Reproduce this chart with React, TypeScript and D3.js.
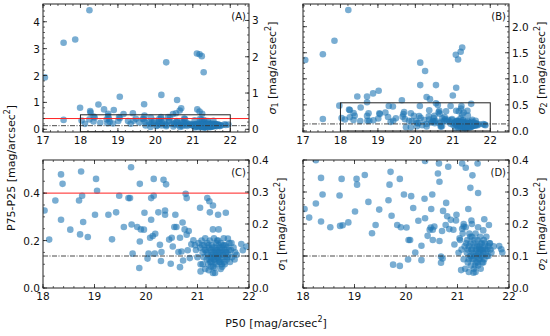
import React from "react";
import * as d3 from "d3";

const W = 550;
const H = 336;
const FONT = "DejaVu Sans, sans-serif";

// sigma = IQR / 1.349 for a gaussian
const GAUSS = 1.349;
const IQR_CUT = 0.4; // red line
const SIGMA_CUT = 0.1; // dash-dot line
const BOX_X: [number, number] = [18, 22];
const BOX_TOP = 0.54;

// P50 vs P75-P25, points inside the zoom box (panel C)
const iqrCore: [number, number][] = [
  [18.03, 0.327], [18.12, 0.204], [18.35, 0.479], [18.38, 0.439], [18.24, 0.369],
  [18.35, 0.288], [18.53, 0.246], [18.74, 0.491], [18.76, 0.389], [18.7, 0.369],
  [18.78, 0.278], [18.72, 0.226], [18.87, 0.215], [19.03, 0.46], [19.05, 0.41],
  [19.01, 0.309], [19.27, 0.309], [19.42, 0.319], [19.34, 0.205], [19.48, 0.389],
  [19.57, 0.257], [19.71, 0.509], [19.66, 0.379], [19.69, 0.379], [19.72, 0.268],
  [19.74, 0.145], [19.88, 0.439], [19.83, 0.257], [19.9, 0.247], [19.88, 0.196],
  [19.96, 0.246], [19.97, 0.317], [19.87, 0.084], [20.05, 0.145], [20.03, 0.124],
  [20.08, 0.212], [20.1, 0.288], [20.1, 0.379], [20.15, 0.46], [20.17, 0.145],
  [20.18, 0.229], [20.13, 0.219], [20.15, 0.389], [20.24, 0.319], [20.27, 0.182],
  [20.3, 0.152], [20.29, 0.114], [20.34, 0.456], [20.39, 0.437], [20.37, 0.309],
  [20.37, 0.327], [20.45, 0.204], [20.48, 0.102], [20.5, 0.212], [20.55, 0.257],
  [20.57, 0.309], [20.52, 0.175], [20.59, 0.257], [20.63, 0.152], [20.66, 0.212],
  [20.66, 0.088], [20.71, 0.276], [20.69, 0.154], [20.72, 0.116], [20.75, 0.247],
  [20.77, 0.397], [20.79, 0.379], [20.79, 0.225], [20.81, 0.159], [20.83, 0.24],
  [20.85, 0.126], [20.88, 0.184], [20.92, 0.201], [20.95, 0.18], [21.05, 0.338],
  [21.06, 0.07], [21.19, 0.379], [21.23, 0.366], [21.24, 0.319], [21.3, 0.348],
  [21.4, 0.309], [21.41, 0.247], [21.3, 0.247], [21.34, 0.063], [21.3, 0.063],
  [21.55, 0.317], [21.59, 0.208], [21.88, 0.159], [21.85, 0.185], [21.95, 0.175],
];

// the crowded clump near P50 ~ 21.3 (panel C)
const iqrClump: [number, number][] = [
  [21.02, 0.19], [21.05, 0.17], [21.08, 0.2], [21.1, 0.15], [21.12, 0.13],
  [21.13, 0.18], [21.15, 0.21], [21.16, 0.16], [21.18, 0.12], [21.19, 0.19],
  [21.2, 0.14], [21.21, 0.1], [21.22, 0.17], [21.24, 0.2], [21.25, 0.13],
  [21.26, 0.16], [21.27, 0.11], [21.28, 0.18], [21.29, 0.14], [21.3, 0.09],
  [21.31, 0.15], [21.32, 0.21], [21.33, 0.12], [21.34, 0.17], [21.35, 0.14],
  [21.36, 0.19], [21.37, 0.1], [21.38, 0.16], [21.39, 0.13], [21.4, 0.2],
  [21.41, 0.15], [21.42, 0.11], [21.43, 0.17], [21.44, 0.14], [21.45, 0.19],
  [21.46, 0.12], [21.47, 0.16], [21.48, 0.09], [21.49, 0.18], [21.5, 0.14],
  [21.51, 0.21], [21.52, 0.11], [21.53, 0.16], [21.54, 0.13], [21.55, 0.18],
  [21.56, 0.15], [21.57, 0.12], [21.58, 0.17], [21.6, 0.14], [21.62, 0.19],
  [21.63, 0.11], [21.65, 0.16], [21.67, 0.13], [21.7, 0.17], [21.73, 0.15],
  [21.76, 0.14], [21.1, 0.1], [21.15, 0.08], [21.22, 0.075], [21.28, 0.13],
  [21.33, 0.085], [21.36, 0.13], [21.42, 0.12], [21.47, 0.1], [21.38, 0.2],
  [21.26, 0.09], [21.0, 0.13], [20.97, 0.16], [21.06, 0.1], [21.45, 0.08],
  [21.53, 0.1], [21.18, 0.15], [21.23, 0.12], [21.29, 0.17], [21.34, 0.11],
  [21.37, 0.15], [21.41, 0.18], [21.44, 0.11], [21.49, 0.15], [21.52, 0.18],
  [21.58, 0.13], [21.61, 0.16], [21.31, 0.12], [21.27, 0.15], [21.21, 0.18],
  [21.14, 0.16], [21.4, 0.13], [21.46, 0.17], [21.55, 0.15], [21.35, 0.16],
  [21.09, 0.18], [21.66, 0.19], [21.72, 0.12], [21.25, 0.11], [21.43, 0.15],
];

// points only visible in panel A (outside the box)
const iqrOuter: [number, number][] = [
  [17.05, 1.93], [17.55, 3.22], [17.86, 3.34], [18.24, 4.43], [20.29, 2.49],
  [21.11, 2.82], [21.18, 2.79], [21.24, 2.72], [21.29, 2.12], [19.05, 1.21],
  [20.16, 1.28], [20.58, 1.09], [17.99, 0.8], [18.48, 0.92], [18.26, 0.68],
  [18.27, 0.62], [18.63, 0.74], [18.89, 0.72], [18.74, 0.58], [19.7, 0.93],
  [20.69, 0.78], [20.65, 0.7], [20.47, 0.57], [21.12, 0.74], [21.18, 0.66],
  [17.55, 0.35], [19.4, 0.6], [19.15, 0.57], [20.55, 0.6], [21.25, 0.58],
];

// P50 vs sigma_2, points inside panel D
const sig2Core: [number, number][] = [
  [18.25, 0.399], [18.03, 0.247], [18.12, 0.22], [18.25, 0.264], [18.35, 0.344],
  [18.38, 0.292], [18.35, 0.208], [18.53, 0.19], [18.71, 0.289], [18.75, 0.341],
  [18.72, 0.194], [18.77, 0.196], [18.88, 0.205], [19.01, 0.239], [19.04, 0.341],
  [19.05, 0.323], [19.2, 0.353], [19.27, 0.269], [19.34, 0.171], [19.41, 0.197],
  [19.48, 0.245], [19.66, 0.274], [19.68, 0.323], [19.7, 0.363], [19.72, 0.226],
  [19.75, 0.073], [19.83, 0.197], [19.88, 0.341], [19.88, 0.069], [19.9, 0.19],
  [19.96, 0.292], [20.01, 0.189], [20.05, 0.15], [20.08, 0.15], [20.04, 0.089],
  [20.1, 0.287], [20.14, 0.25], [20.18, 0.111], [20.24, 0.21], [20.3, 0.132],
  [20.3, 0.087], [20.36, 0.279], [20.37, 0.218], [20.37, 0.397], [20.42, 0.163],
  [20.49, 0.247], [20.51, 0.292], [20.46, 0.182], [20.48, 0.189], [20.52, 0.182],
  [20.52, 0.15], [20.55, 0.192], [20.62, 0.358], [20.64, 0.389], [20.65, 0.332],
  [20.68, 0.098], [20.68, 0.079], [20.7, 0.178], [20.71, 0.092], [20.65, 0.147],
  [20.72, 0.241], [20.77, 0.197], [20.78, 0.266], [20.8, 0.224], [20.82, 0.379],
  [20.84, 0.184], [20.87, 0.213], [20.92, 0.182], [20.97, 0.211], [20.94, 0.136],
  [20.98, 0.229], [21.04, 0.155], [21.07, 0.056], [21.09, 0.389], [21.09, 0.185],
  [21.12, 0.192], [21.16, 0.376], [21.21, 0.247], [21.25, 0.313], [21.27, 0.211],
  [21.29, 0.352], [21.31, 0.048], [21.39, 0.389], [21.4, 0.297], [21.42, 0.121],
  [21.52, 0.215], [21.61, 0.197], [21.63, 0.14], [21.81, 0.131], [21.85, 0.121],
  [21.87, 0.111],
];

// the crowded clump near P50 ~ 21.35 (panel D)
const sig2Clump: [number, number][] = [
  [21.05, 0.15], [21.08, 0.12], [21.1, 0.17], [21.12, 0.09], [21.14, 0.13],
  [21.16, 0.19], [21.18, 0.11], [21.19, 0.15], [21.2, 0.08], [21.22, 0.13],
  [21.23, 0.17], [21.24, 0.1], [21.25, 0.14], [21.26, 0.07], [21.27, 0.12],
  [21.28, 0.16], [21.29, 0.09], [21.3, 0.11], [21.31, 0.14], [21.32, 0.06],
  [21.33, 0.1], [21.34, 0.13], [21.35, 0.17], [21.36, 0.08], [21.37, 0.12],
  [21.38, 0.1], [21.39, 0.15], [21.4, 0.07], [21.41, 0.11], [21.42, 0.13],
  [21.43, 0.09], [21.44, 0.16], [21.45, 0.12], [21.46, 0.1], [21.47, 0.14],
  [21.48, 0.08], [21.49, 0.12], [21.5, 0.11], [21.51, 0.15], [21.52, 0.09],
  [21.53, 0.13], [21.55, 0.11], [21.56, 0.16], [21.58, 0.12], [21.6, 0.1],
  [21.62, 0.14], [21.64, 0.12], [21.66, 0.11], [21.7, 0.13], [21.28, 0.2],
  [21.22, 0.05], [21.35, 0.05], [21.15, 0.06], [21.45, 0.06], [21.4, 0.19],
  [21.12, 0.2], [21.5, 0.18], [21.02, 0.11], [21.2, 0.12], [21.26, 0.1],
  [21.31, 0.09], [21.36, 0.11], [21.41, 0.09], [21.46, 0.12], [21.5, 0.08],
  [21.54, 0.12], [21.57, 0.1], [21.33, 0.15], [21.38, 0.13], [21.43, 0.11],
  [21.48, 0.1], [21.28, 0.12], [21.22, 0.09], [21.17, 0.14], [21.6, 0.13],
  [21.44, 0.14], [21.34, 0.07], [21.39, 0.08], [21.53, 0.14], [21.25, 0.16],
];

// points only visible in panel B
const sig2Outer: [number, number][] = [
  [17.06, 1.36], [17.53, 1.47], [17.84, 1.73], [18.21, 2.32], [20.13, 1.31],
  [20.26, 1.15], [20.13, 0.88], [20.55, 0.88], [20.3, 0.65], [20.39, 0.61],
  [21.08, 1.46], [21.14, 1.37], [21.21, 1.52], [21.25, 1.6], [21.09, 0.83],
  [21.0, 0.68], [18.45, 0.66], [18.71, 0.66], [18.71, 0.55], [18.87, 0.72],
  [19.02, 0.77], [19.64, 0.59], [17.53, 0.23], [17.97, 0.485], [18.23, 0.41],
  [18.54, 0.45], [19.29, 0.48], [19.4, 0.47], [20.12, 0.48], [20.6, 0.5],
  [20.55, 0.53], [20.94, 0.48], [21.22, 0.43], [21.23, 0.48], [21.49, 0.52],
];

type Pt = [number, number];
type Side = {
  scale: d3.ScaleLinear<number, number>;
  major: number[];
  minor: number[];
  labels: boolean;
  fmt: (v: number) => string;
};

function steps(a: number, b: number, s: number): number[] {
  const lo = Math.ceil(a / s - 1e-6);
  const hi = Math.floor(b / s + 1e-6);
  return d3.range(lo, hi + 1).map((i) => +(i * s).toFixed(6));
}

function side(domain: [number, number], range: [number, number], major: number, minor: number, labels: boolean, digits: number): Side {
  const scale = d3.scaleLinear().domain(domain).range(range);
  return {
    scale,
    major: steps(domain[0], domain[1], major),
    minor: steps(domain[0], domain[1], minor),
    labels,
    fmt: (v) => v.toFixed(digits),
  };
}

function AxisLabel({ x, y, sub, rotate }: { x: number; y: number; sub?: string; rotate?: boolean }) {
  return (
    <text
      transform={`translate(${x},${y})${rotate ? " rotate(-90)" : ""}`}
      textAnchor="middle"
      dominantBaseline="central"
      fontFamily={FONT}
      fontSize={11}
      fill="#111"
    >
      {sub ? (
        <>
          <tspan fontStyle="italic">σ</tspan>
          <tspan fontSize={8} dy={3}>{sub}</tspan>
          <tspan dy={-3}> [mag/arcsec</tspan>
        </>
      ) : null}
      {!sub ? <tspan>{rotate ? "P75-P25 [mag/arcsec" : "P50 [mag/arcsec"}</tspan> : null}
      <tspan fontSize={8} dy={-4}>2</tspan>
      <tspan dy={4}>]</tspan>
    </text>
  );
}

function Panel(props: {
  id: string;
  x0: number;
  x1: number;
  y0: number;
  y1: number;
  xDomain: [number, number];
  left: Side;
  right: Side;
  points: Pt[];
  red?: number;
  dash: number;
  box?: [number, number];
  tag: string;
}) {
  const { id, x0, x1, y0, y1, xDomain, left, right, points, red, dash, box, tag } = props;
  const x = d3.scaleLinear().domain(xDomain).range([x0, x1]);
  const y = left.scale;
  const xMajor = steps(xDomain[0], xDomain[1], 1);
  const xMinor = steps(xDomain[0], xDomain[1], 0.2);
  const tc = "#222";
  const maj = 4;
  const mnr = 2;

  return (
    <g>
      <clipPath id={id}>
        <rect x={x0} y={y0} width={x1 - x0} height={y1 - y0} />
      </clipPath>
      <g clipPath={`url(#${id})`}>
        {points.map((d, i) => (
          <circle key={i} cx={x(d[0])} cy={y(d[1])} r={3.3} fill="#1f77b4" fillOpacity={0.6} />
        ))}
        {red !== undefined ? (
          <line x1={x0} x2={x1} y1={y(red)} y2={y(red)} stroke="#ff2020" strokeWidth={1} />
        ) : null}
        <line
          x1={x0}
          x2={x1}
          y1={y(dash)}
          y2={y(dash)}
          stroke="#333"
          strokeWidth={0.9}
          strokeDasharray="5,1.5,1,1.5"
        />
        {box ? (
          <rect
            x={x(BOX_X[0])}
            y={y(BOX_TOP)}
            width={x(BOX_X[1]) - x(BOX_X[0])}
            height={y(box[0]) - y(BOX_TOP)}
            fill="none"
            stroke="#222"
            strokeWidth={1}
          />
        ) : null}
      </g>

      {/* x ticks, bottom and top */}
      {xMinor.map((v) => (
        <g key={"xm" + v} stroke={tc} strokeWidth={0.7}>
          <line x1={x(v)} x2={x(v)} y1={y1} y2={y1 - mnr} />
          <line x1={x(v)} x2={x(v)} y1={y0} y2={y0 + mnr} />
        </g>
      ))}
      {xMajor.map((v) => (
        <g key={"xM" + v}>
          <line x1={x(v)} x2={x(v)} y1={y1} y2={y1 - maj} stroke={tc} strokeWidth={0.8} />
          <line x1={x(v)} x2={x(v)} y1={y0} y2={y0 + maj} stroke={tc} strokeWidth={0.8} />
          <text x={x(v)} y={y1 + 12} textAnchor="middle" fontFamily={FONT} fontSize={10.5} fill="#111">
            {v}
          </text>
        </g>
      ))}

      {/* left ticks */}
      {left.minor.map((v) => (
        <line key={"lm" + v} x1={x0} x2={x0 + mnr} y1={left.scale(v)} y2={left.scale(v)} stroke={tc} strokeWidth={0.7} />
      ))}
      {left.major.map((v) => (
        <g key={"lM" + v}>
          <line x1={x0} x2={x0 + maj} y1={left.scale(v)} y2={left.scale(v)} stroke={tc} strokeWidth={0.8} />
          {left.labels ? (
            <text
              x={x0 - 3}
              y={left.scale(v)}
              textAnchor="end"
              dominantBaseline="central"
              fontFamily={FONT}
              fontSize={10.5}
              fill="#111"
            >
              {left.fmt(v)}
            </text>
          ) : null}
        </g>
      ))}

      {/* right ticks */}
      {right.minor.map((v) => (
        <line key={"rm" + v} x1={x1} x2={x1 - mnr} y1={right.scale(v)} y2={right.scale(v)} stroke={tc} strokeWidth={0.7} />
      ))}
      {right.major.map((v) => (
        <g key={"rM" + v}>
          <line x1={x1} x2={x1 - maj} y1={right.scale(v)} y2={right.scale(v)} stroke={tc} strokeWidth={0.8} />
          <text
            x={x1 + 3}
            y={right.scale(v)}
            textAnchor="start"
            dominantBaseline="central"
            fontFamily={FONT}
            fontSize={10.5}
            fill="#111"
          >
            {right.fmt(v)}
          </text>
        </g>
      ))}

      <rect x={x0} y={y0} width={x1 - x0} height={y1 - y0} fill="none" stroke="#222" strokeWidth={1} />
      <text x={x1 - 3} y={y0 + 16} textAnchor="end" fontFamily={FONT} fontSize={10} fill="#111">
        {tag}
      </text>
    </g>
  );
}

export default function App() {
  const L = 43;
  const R = 249;
  const L2 = 303;
  const R2 = 509;
  const top1 = 4;
  const bot1 = 132;
  const top2 = 160;
  const bot2 = 288;

  const aLeftDom: [number, number] = [-0.1, 4.66];
  const cLeftDom: [number, number] = [0, 0.4 * GAUSS];
  const bDom: [number, number] = [-0.02, 2.435];
  const dDom: [number, number] = [0, 0.4];

  const aLeft = side(aLeftDom, [bot1, top1], 1, 0.2, true, 0);
  const aRight = side([aLeftDom[0] / GAUSS, aLeftDom[1] / GAUSS], [bot1, top1], 1, 0.2, true, 0);
  const bLeft = side(bDom, [bot1, top1], 0.5, 0.1, false, 1);
  const bRight = side(bDom, [bot1, top1], 0.5, 0.1, true, 1);
  const cLeft = side(cLeftDom, [bot2, top2], 0.2, 0.05, true, 1);
  const cRight = side([0, 0.4], [bot2, top2], 0.1, 0.02, true, 1);
  const dLeft = side(dDom, [bot2, top2], 0.1, 0.02, false, 1);
  const dRight = side(dDom, [bot2, top2], 0.1, 0.02, true, 1);

  const iqrAll = [...iqrOuter, ...iqrCore, ...iqrClump];
  const sig2All = [...sig2Outer, ...sig2Core, ...sig2Clump];

  return (
    <div style={{ position: "absolute", left: 0, top: 0 }}>
      <svg width={W} height={H} viewBox={`0 0 ${W} ${H}`} style={{ display: "block", background: "#fff" }}>
        <Panel
          id="clipA"
          x0={L}
          x1={R}
          y0={top1}
          y1={bot1}
          xDomain={[17, 22.5]}
          left={aLeft}
          right={aRight}
          points={iqrAll}
          red={IQR_CUT}
          dash={SIGMA_CUT * GAUSS}
          box={[-0.09, BOX_TOP]}
          tag="(A)"
        />
        <Panel
          id="clipB"
          x0={L2}
          x1={R2}
          y0={top1}
          y1={bot1}
          xDomain={[17, 22.5]}
          left={bLeft}
          right={bRight}
          points={sig2All}
          dash={SIGMA_CUT * GAUSS}
          box={[0, BOX_TOP]}
          tag="(B)"
        />
        <Panel
          id="clipC"
          x0={L}
          x1={R}
          y0={top2}
          y1={bot2}
          xDomain={[18, 22]}
          left={cLeft}
          right={cRight}
          points={[...iqrCore, ...iqrClump]}
          red={IQR_CUT}
          dash={SIGMA_CUT * GAUSS}
          tag="(C)"
        />
        <Panel
          id="clipD"
          x0={L2}
          x1={R2}
          y0={top2}
          y1={bot2}
          xDomain={[18, 22]}
          left={dLeft}
          right={dRight}
          points={[...sig2Core, ...sig2Clump]}
          dash={SIGMA_CUT}
          tag="(D)"
        />

        <AxisLabel x={272} y={68} sub="1" rotate />
        <AxisLabel x={541} y={68} sub="2" rotate />
        <AxisLabel x={281} y={224} sub="1" rotate />
        <AxisLabel x={541} y={224} sub="2" rotate />
        <AxisLabel x={11} y={168} rotate />
        <AxisLabel x={276} y={323} />
      </svg>
    </div>
  );
}
